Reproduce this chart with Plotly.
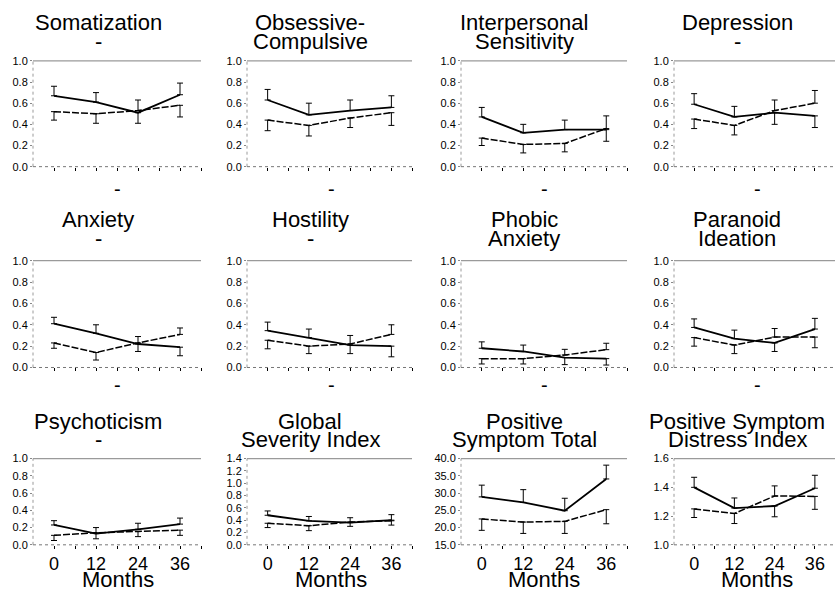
import plotly.graph_objects as go

months = [0, 12, 24, 36]
x_tickvals = [0, 6, 12, 18, 24, 30, 36, 42]
x_ticktext_bottom = ["0", "", "12", "", "24", "", "36", ""]

# Panel titles (two lines each; "-" used as placeholder line in the original)
title_line1 = ["Somatization", "Obsessive-", "Interpersonal", "Depression",
               "Anxiety", "Hostility", "Phobic", "Paranoid",
               "Psychoticism", "Global", "Positive", "Positive Symptom"]
title_line2 = ["-", "Compulsive", "Sensitivity", "-",
               "-", "-", "Anxiety", "Ideation",
               "-", "Severity Index", "Symptom Total", "Distress Index"]
x_titles = ["-"] * 8 + ["Months"] * 4

# Group 1 (solid line) means and SE, group 2 (dashed line) means and SE
somatization_solid = [0.67, 0.61, 0.51, 0.68]
somatization_solid_se = [0.09, 0.09, 0.10, 0.11]
somatization_dashed = [0.52, 0.50, 0.53, 0.58]
somatization_dashed_se = [0.08, 0.09, 0.10, 0.11]

obsessive_solid = [0.63, 0.49, 0.53, 0.56]
obsessive_solid_se = [0.10, 0.11, 0.10, 0.11]
obsessive_dashed = [0.44, 0.39, 0.46, 0.51]
obsessive_dashed_se = [0.10, 0.10, 0.09, 0.12]

interpersonal_solid = [0.47, 0.32, 0.35, 0.35]
interpersonal_solid_se = [0.09, 0.08, 0.09, 0.11]
interpersonal_dashed = [0.27, 0.21, 0.22, 0.36]
interpersonal_dashed_se = [0.07, 0.08, 0.08, 0.12]

depression_solid = [0.59, 0.47, 0.51, 0.48]
depression_solid_se = [0.10, 0.10, 0.11, 0.11]
depression_dashed = [0.45, 0.39, 0.53, 0.60]
depression_dashed_se = [0.09, 0.09, 0.10, 0.12]

anxiety_solid = [0.41, 0.32, 0.22, 0.19]
anxiety_solid_se = [0.06, 0.08, 0.07, 0.08]
anxiety_dashed = [0.23, 0.14, 0.23, 0.31]
anxiety_dashed_se = [0.05, 0.07, 0.06, 0.06]

hostility_solid = [0.345, 0.28, 0.21, 0.20]
hostility_solid_se = [0.08, 0.08, 0.08, 0.10]
hostility_dashed = [0.255, 0.20, 0.22, 0.31]
hostility_dashed_se = [0.08, 0.07, 0.08, 0.09]

phobic_solid = [0.18, 0.15, 0.093, 0.083]
phobic_solid_se = [0.06, 0.06, 0.066, 0.06]
phobic_dashed = [0.083, 0.083, 0.117, 0.167]
phobic_dashed_se = [0.05, 0.05, 0.053, 0.06]

paranoid_solid = [0.375, 0.27, 0.23, 0.36]
paranoid_solid_se = [0.08, 0.08, 0.08, 0.10]
paranoid_dashed = [0.28, 0.21, 0.285, 0.285]
paranoid_dashed_se = [0.08, 0.08, 0.08, 0.10]

psychoticism_solid = [0.23, 0.13, 0.18, 0.24]
psychoticism_solid_se = [0.05, 0.06, 0.07, 0.07]
psychoticism_dashed = [0.11, 0.14, 0.155, 0.17]
psychoticism_dashed_se = [0.06, 0.06, 0.06, 0.06]

gsi_solid = [0.48, 0.39, 0.36, 0.40]
gsi_solid_se = [0.07, 0.07, 0.06, 0.09]
gsi_dashed = [0.35, 0.31, 0.37, 0.39]
gsi_dashed_se = [0.07, 0.08, 0.07, 0.07]

pst_solid = [28.9, 27.3, 24.9, 34.1]
pst_solid_se = [3.4, 3.7, 3.6, 4.0]
pst_dashed = [22.5, 21.6, 21.8, 25.2]
pst_dashed_se = [3.3, 3.3, 3.5, 4.1]

psdi_solid = [1.40, 1.256, 1.27, 1.394]
psdi_solid_se = [0.07, 0.07, 0.075, 0.09]
psdi_dashed = [1.25, 1.218, 1.34, 1.337]
psdi_dashed_se = [0.06, 0.07, 0.07, 0.09]

# y-axis settings per panel
y_ranges = [[0, 1]] * 8 + [[0, 1], [0, 1.4], [15, 40], [1.0, 1.6]]
y_dticks = [0.2] * 8 + [0.2, 0.2, 5, 0.2]

panels = [
    (somatization_solid, somatization_solid_se, somatization_dashed, somatization_dashed_se),
    (obsessive_solid, obsessive_solid_se, obsessive_dashed, obsessive_dashed_se),
    (interpersonal_solid, interpersonal_solid_se, interpersonal_dashed, interpersonal_dashed_se),
    (depression_solid, depression_solid_se, depression_dashed, depression_dashed_se),
    (anxiety_solid, anxiety_solid_se, anxiety_dashed, anxiety_dashed_se),
    (hostility_solid, hostility_solid_se, hostility_dashed, hostility_dashed_se),
    (phobic_solid, phobic_solid_se, phobic_dashed, phobic_dashed_se),
    (paranoid_solid, paranoid_solid_se, paranoid_dashed, paranoid_dashed_se),
    (psychoticism_solid, psychoticism_solid_se, psychoticism_dashed, psychoticism_dashed_se),
    (gsi_solid, gsi_solid_se, gsi_dashed, gsi_dashed_se),
    (pst_solid, pst_solid_se, pst_dashed, pst_dashed_se),
    (psdi_solid, psdi_solid_se, psdi_dashed, psdi_dashed_se),
]

W, H = 835, 590
FONT = "Liberation Sans, Arial, sans-serif"

# pixel layout of plot areas
col_px = [(33, 201), (247, 412), (461, 627), (674, 835)]
row_px = [(56, 164), (260, 369), (462, 550)]
title_cx = [98, 310, 524, 737]
xtitle_cx = [118, 331, 544, 757]
row_title_y = [(17, 36), (218, 237), (424, 442)]
row_xtitle_y = [187, 387, 585]

fig = go.Figure()
layout = dict(width=W, height=H, margin=dict(l=0, r=0, t=0, b=0),
              paper_bgcolor="white", plot_bgcolor="white", showlegend=False,
              font=dict(family=FONT, color="black"))
shapes = []
annotations = []

for i, (s, sse, d, dse) in enumerate(panels):
    r, c = divmod(i, 4)
    sfx = "" if i == 0 else str(i + 1)
    xr, yr = "x" + sfx, "y" + sfx
    # upper series gets the upward bar, lower series the downward bar
    s_plus = [e if a >= b else 0 for a, b, e in zip(s, d, sse)]
    s_minus = [0 if a >= b else e for a, b, e in zip(s, d, sse)]
    d_plus = [e if b > a else 0 for a, b, e in zip(s, d, dse)]
    d_minus = [0 if b > a else e for a, b, e in zip(s, d, dse)]
    fig.add_trace(go.Scatter(
        x=months, y=d, mode="lines", xaxis=xr, yaxis=yr,
        line=dict(color="black", width=1.5, dash="7px,2px"),
        error_y=dict(type="data", symmetric=False, array=d_plus, arrayminus=d_minus,
                     color="black", thickness=1, width=3)))
    fig.add_trace(go.Scatter(
        x=months, y=s, mode="lines", xaxis=xr, yaxis=yr,
        line=dict(color="black", width=1.8),
        error_y=dict(type="data", symmetric=False, array=s_plus, arrayminus=s_minus,
                     color="black", thickness=1, width=3)))

    x0, x1 = col_px[c]
    y0, y1 = row_px[r]
    dom_x = [x0 / W, x1 / W]
    dom_y = [1 - y1 / H, 1 - y0 / H]
    bottom = r == 2
    layout["xaxis" + sfx] = dict(
        domain=dom_x, anchor=yr, range=[-6, 42], tickmode="array",
        tickvals=x_tickvals, ticktext=x_ticktext_bottom if bottom else [""] * 8,
        ticks="outside", ticklen=3, tickcolor="black", tickwidth=1,
        showgrid=False, zeroline=False, showline=False,
        tickfont=dict(size=18, family=FONT, color="black"))
    layout["yaxis" + sfx] = dict(
        domain=dom_y, anchor=xr, range=y_ranges[i], dtick=y_dticks[i],
        tick0=y_ranges[i][0], tickformat=".1f", ticks="outside", ticklen=2,
        tickcolor="#888", showgrid=False, zeroline=False, showline=False,
        tickfont=dict(size=11, family=FONT, color="black"))

    xd, yd = xr + " domain", yr + " domain"
    shapes.append(dict(type="line", xref=xd, yref=yd, x0=0, x1=1, y0=1, y1=1,
                       line=dict(color="#9a9a9a", width=1.2)))
    shapes.append(dict(type="line", xref=xd, yref=yd, x0=0, x1=0, y0=0, y1=1,
                       line=dict(color="#9a9a9a", width=1, dash="dot")))
    shapes.append(dict(type="line", xref=xd, yref=yd, x0=0, x1=1, y0=0, y1=0,
                       line=dict(color="#777777", width=1, dash="dot")))

    ty1, ty2 = row_title_y[r]
    for txt, ty in ((title_line1[i], ty1), (title_line2[i], ty2)):
        annotations.append(dict(text=txt, xref="paper", yref="paper",
                                x=title_cx[c] / W, y=1 - ty / H, xanchor="center",
                                yanchor="middle", showarrow=False,
                                font=dict(size=22, family=FONT, color="black")))
    annotations.append(dict(text=x_titles[i], xref="paper", yref="paper",
                            x=xtitle_cx[c] / W, y=1 - row_xtitle_y[r] / H,
                            xanchor="center", yanchor="middle", showarrow=False,
                            font=dict(size=22 if bottom else 20, family=FONT,
                                      color="black")))

layout["shapes"] = shapes
layout["annotations"] = annotations
fig.update_layout(**layout)
fig.write_html("out.html", config={"displayModeBar": False},
               post_script="document.body.style.margin='0';document.body.style.overflow='hidden';")
